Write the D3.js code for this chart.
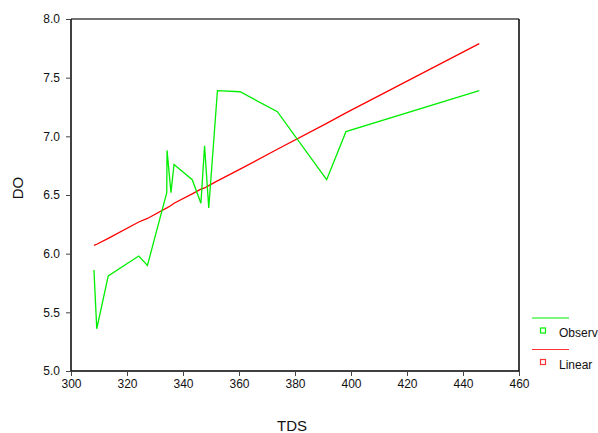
<!DOCTYPE html>
<html>
<head>
<meta charset="utf-8">
<script src="https://cdn.jsdelivr.net/npm/d3@7"></script>
<style>
  body { margin: 0; background: #fff; }
  svg { display: block; font-family: "Liberation Sans", Arial, sans-serif; }
</style>
</head>
<body>
<div id="chart"></div>
<script>
// TDS (x) with observed DO and the linear fit at each point
var tds = [308.2, 309.2, 313.3, 324.2, 327.3, 334.2, 334.3, 335.7, 336.8, 343.3,
    346.4, 347.7, 349.2, 352.3, 360.4, 373.7, 391.3, 398.2, 445.8];
var observed = [5.86, 5.36, 5.81, 5.98, 5.90, 6.52, 6.88, 6.52, 6.76, 6.63,
    6.43, 6.92, 6.39, 7.39, 7.38, 7.21, 6.63, 7.04, 7.39];
var linear = [6.07, 6.08, 6.13, 6.27, 6.30, 6.39, 6.39, 6.41, 6.43, 6.51,
    6.55, 6.56, 6.58, 6.62, 6.72, 6.89, 7.11, 7.20, 7.79];

var xTicks = [300, 320, 340, 360, 380, 400, 420, 440, 460];
var yTicks = [5.0, 5.5, 6.0, 6.5, 7.0, 7.5, 8.0];

var width = 598, height = 433;
var pLeft = 71, pRight = 519, pTop = 19, pBottom = 371;

var svg = d3.select('#chart').append('svg')
    .attr('width', width)
    .attr('height', height);

var xScale = d3.scaleLinear().domain([300, 460]).range([pLeft, pRight]);
var yScale = d3.scaleLinear().domain([5, 8]).range([pBottom, pTop]);

// frame
svg.append('line').attr('x1', pLeft).attr('x2', pRight).attr('y1', pTop).attr('y2', pTop)
    .attr('stroke', '#444').attr('stroke-width', 1.5);
svg.append('line').attr('x1', pRight).attr('x2', pRight).attr('y1', pTop).attr('y2', pBottom)
    .attr('stroke', '#000').attr('stroke-width', 1.5);

var xAxis = d3.axisBottom(xScale).tickValues(xTicks).tickSize(5).tickPadding(3)
    .tickFormat(d3.format('d'));
var yAxis = d3.axisLeft(yScale).tickValues(yTicks).tickSize(5).tickPadding(6)
    .tickFormat(d3.format('.1f'));

var gx = svg.append('g')
    .attr('transform', 'translate(0,' + pBottom + ')')
    .call(xAxis);
var gy = svg.append('g')
    .attr('transform', 'translate(' + pLeft + ',0)')
    .call(yAxis);

[gx, gy].forEach(function (g) {
    g.select('.domain').attr('stroke', '#000').attr('stroke-width', 1.5);
    g.selectAll('.tick line').attr('stroke', '#444');
    g.selectAll('.tick text').attr('fill', '#111')
        .style('font-size', '12px')
        .style('font-family', '"Liberation Sans", Arial, sans-serif');
});
gx.select('.domain').attr('d', 'M' + pLeft + ',0H' + pRight);
gy.select('.domain').attr('d', 'M0,' + pBottom + 'V' + pTop);

// lines
var line = d3.line()
    .x(function (d, i) { return xScale(tds[i]); })
    .y(function (d) { return yScale(d); });

svg.append('path')
    .datum(linear)
    .attr('d', line)
    .attr('fill', 'none')
    .attr('stroke', '#ff0000')
    .attr('stroke-width', 1.3);

svg.append('path')
    .datum(observed)
    .attr('d', line)
    .attr('fill', 'none')
    .attr('stroke', '#00ee00')
    .attr('stroke-width', 1.3);

// axis titles
svg.append('text')
    .attr('x', 292).attr('y', 431)
    .attr('text-anchor', 'middle')
    .style('font-size', '15px')
    .attr('fill', '#111')
    .text('TDS');

svg.append('text')
    .attr('transform', 'translate(23,188) rotate(-90)')
    .attr('text-anchor', 'middle')
    .style('font-size', '15px')
    .attr('fill', '#111')
    .text('DO');

// legend
var legend = [
    { name: 'Observed', color: '#00ee00', y: 318 },
    { name: 'Linear', color: '#ff3333', y: 349.5 }
];
var lg = svg.selectAll('.legend')
    .data(legend)
    .enter()
    .append('g')
    .classed('legend', true);

lg.append('line')
    .attr('x1', 532).attr('x2', 569)
    .attr('y1', function (d) { return d.y; })
    .attr('y2', function (d) { return d.y; })
    .attr('stroke', function (d) { return d.color; })
    .attr('stroke-width', 1.2);

lg.append('rect')
    .attr('x', 540.5)
    .attr('y', function (d) { return d.y + 10; })
    .attr('width', 5).attr('height', 5)
    .attr('fill', 'none')
    .attr('stroke', function (d) { return d.color; })
    .attr('stroke-width', 1.2);

lg.append('text')
    .attr('x', 559)
    .attr('y', function (d) { return d.y + 19; })
    .style('font-size', '12px')
    .attr('fill', '#111')
    .text(function (d) { return d.name; });
</script>
</body>
</html>
